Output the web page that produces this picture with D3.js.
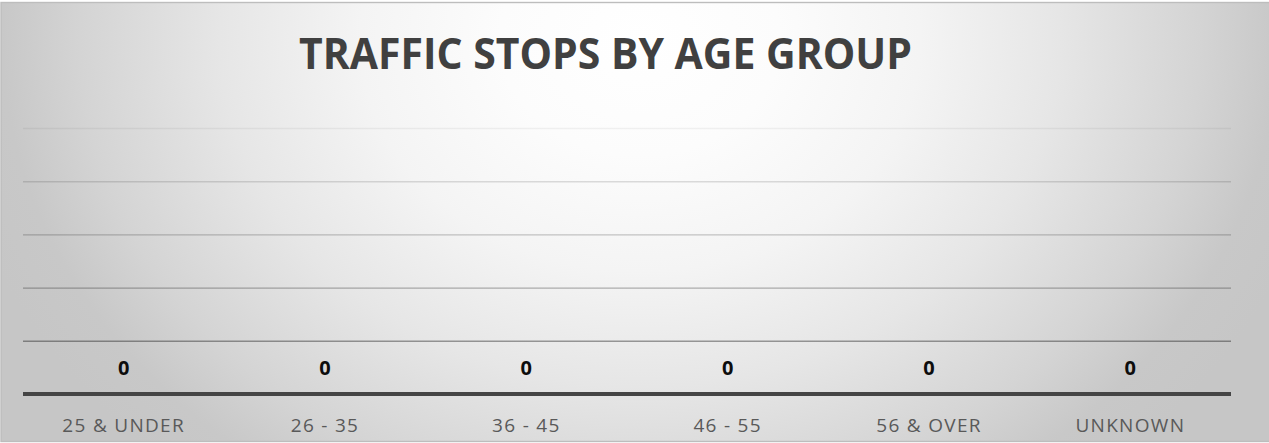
<!DOCTYPE html>
<html>
<head>
<meta charset="utf-8">
<script src="https://cdn.jsdelivr.net/npm/d3@7"></script>
<style>
  html, body { margin: 0; padding: 0; background: #ffffff; overflow: hidden; }
  svg { display: block; }
</style>
</head>
<body>
<div id="chart"></div>
<script>
// ---- data ----
const title = "TRAFFIC STOPS BY AGE GROUP";
const categories = ["25 & UNDER", "26 - 35", "36 - 45", "46 - 55", "56 & OVER", "UNKNOWN"];
const stops = [0, 0, 0, 0, 0, 0];
const gridTicks = [0.2, 0.4, 0.6, 0.8, 1.0];
const yDomain = [0, 1];

// ---- layout ----
const W = 1269, H = 443;
const plot = { left: 23, right: 1231, top: 128, bottom: 394 };

const svg = d3.select("#chart").append("svg")
  .attr("width", W).attr("height", H);

const defs = svg.append("defs");
const bg = defs.append("radialGradient")
  .attr("id", "bg")
  .attr("gradientUnits", "userSpaceOnUse")
  .attr("cx", 0).attr("cy", 0).attr("r", 1)
  .attr("gradientTransform", "translate(640,40) scale(700,578)");
[[0, "#ffffff"], [0.2, "#fcfcfc"], [0.4, "#f4f4f4"], [0.6, "#e6e6e6"],
 [0.8, "#d4d4d4"], [0.91, "#c8c8c8"], [1, "#c6c6c6"]].forEach(([o, c]) => {
  bg.append("stop").attr("offset", o).attr("stop-color", c);
});

// chart frame
svg.append("rect")
  .attr("x", 1).attr("y", 2.5)
  .attr("width", W + 10).attr("height", 439)
  .attr("fill", "url(#bg)")
  .attr("stroke", "#bdbdbd").attr("stroke-width", 1.4);

// scales
const x = d3.scaleBand().domain(categories).range([plot.left, plot.right])
  .paddingInner(0.35).paddingOuter(0.175);
const y = d3.scaleLinear().domain(yDomain).range([plot.bottom, plot.top]);
const gridOpacity = d3.scaleLinear().domain([gridTicks[0], gridTicks[gridTicks.length - 1]]).range([0.37, 0.05]);

// gridlines via axis
const gridG = svg.append("g")
  .attr("transform", `translate(${plot.left},0)`)
  .call(d3.axisLeft(y).tickValues(gridTicks).tickSize(-(plot.right - plot.left)).tickFormat(""));
gridG.select(".domain").remove();
gridG.selectAll(".tick line")
  .attr("stroke", "#000")
  .attr("stroke-opacity", d => gridOpacity(d))
  .attr("stroke-width", 1.4);

// bars (all zero height)
svg.append("g").selectAll("rect")
  .data(stops)
  .join("rect")
  .attr("x", (d, i) => x(categories[i]))
  .attr("width", x.bandwidth())
  .attr("y", d => y(d))
  .attr("height", d => y(0) - y(d))
  .attr("fill", "#7f7f7f");

// category axis
const xAxis = svg.append("g")
  .attr("transform", `translate(0,${plot.bottom})`)
  .call(d3.axisBottom(x).tickSize(0).tickPadding(0));
xAxis.select(".domain")
  .attr("d", `M${plot.left},0H${plot.right}`)
  .attr("stroke", "#454545")
  .attr("stroke-width", 4);
xAxis.selectAll(".tick text")
  .attr("y", 37.7)
  .attr("dy", null)
  .attr("font-family", "'Open Sans', sans-serif")
  .attr("font-size", 19)
  .attr("letter-spacing", 1.3)
  .attr("fill", "#595959");

// value labels
svg.append("g").selectAll("text")
  .data(stops)
  .join("text")
  .attr("x", (d, i) => x(categories[i]) + x.bandwidth() / 2)
  .attr("y", d => y(d) - 19)
  .attr("text-anchor", "middle")
  .attr("font-family", "'Open Sans', sans-serif")
  .attr("font-weight", "bold")
  .attr("font-size", 20)
  .attr("fill", "#0d0d0d")
  .text(d => d3.format("d")(d));

// title
svg.append("text")
  .attr("x", 299)
  .attr("y", 69.3)
  .attr("font-family", "'Open Sans', sans-serif")
  .attr("font-weight", "bold")
  .attr("font-size", 43.4)
  .attr("fill", "#404040")
  .attr("textLength", 613)
  .attr("lengthAdjust", "spacingAndGlyphs")
  .text(title);
</script>
</body>
</html>
